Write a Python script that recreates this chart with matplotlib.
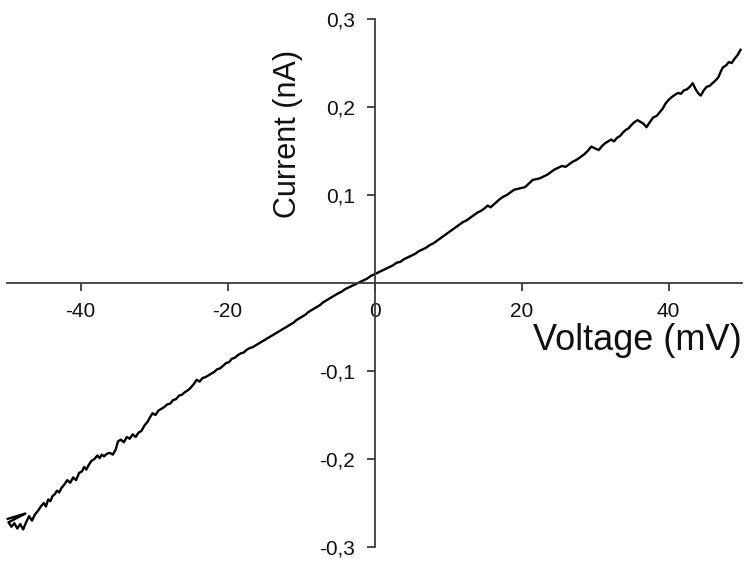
import numpy as np
import matplotlib
matplotlib.use("Agg")
import matplotlib.pyplot as plt

plt.rcParams['font.family'] = ['Liberation Sans', 'DejaVu Sans']

# I-V trace: voltage (mV) and current (nA)
voltage = [
    -49.9, -47.5, -49.8, -49.4, -49.0, -48.6, -48.2, -47.8, -47.4, -47.0,
    -46.6, -46.2, -45.8, -45.4, -45.0, -44.7, -44.4, -44.1, -43.8, -43.5,
    -43.2, -42.9, -42.6, -42.2, -41.8, -41.4, -41.0, -40.6, -40.2, -39.8,
    -39.5, -39.2, -38.9, -38.5, -38.1, -37.7, -37.4, -37.1, -36.8, -36.4,
    -36.0, -35.6, -35.2, -34.9, -34.5, -34.1, -33.7, -33.3, -32.9, -32.5,
    -32.1, -31.7, -31.3, -30.9, -30.5, -30.2, -29.8, -29.4, -29.0, -28.6,
    -28.2, -27.8, -27.4, -27.0, -26.6, -26.2, -25.8, -25.4, -25.0, -24.6,
    -24.2, -23.8, -23.4, -23.0, -22.6, -22.2, -21.8, -21.4, -21.0, -20.6,
    -20.2, -19.8, -19.4, -19.0, -18.6, -18.2, -17.8, -17.4, -17.0, -16.6,
    -16.2, -15.8, -15.4, -15.0, -14.6, -14.2, -13.8, -13.4, -13.0, -12.6,
    -12.2, -11.8, -11.4, -11.0, -10.6, -10.2, -9.8, -9.4, -9.0, -8.6,
    -8.2, -7.8, -7.4, -7.0, -6.6, -6.2, -5.8, -5.4, -5.0, -4.5,
    -4.0, -3.5, -3.0, -2.5, -2.0, -1.5, -1.0, -0.5, 0.0, 0.5,
    1.0, 1.5, 2.0, 2.5, 3.0, 3.5, 4.0, 4.5, 5.0, 5.5,
    6.0, 6.5, 7.0, 7.5, 8.0, 8.5, 9.0, 9.5, 10.0, 10.5,
    11.0, 11.5, 12.0, 12.5, 13.0, 13.5, 14.0, 14.5, 15.0, 15.4,
    15.8, 16.2, 16.6, 17.0, 17.5, 18.0, 18.5, 19.0, 19.5, 20.0,
    20.5, 21.0, 21.5, 22.0, 22.5, 23.0, 23.5, 24.0, 24.5, 25.0,
    25.5, 26.0, 26.5, 27.0, 27.5, 28.0, 28.5, 29.0, 29.5, 30.0,
    30.5, 31.0, 31.4, 31.8, 32.2, 32.6, 33.0, 33.4, 33.8, 34.2,
    34.6, 35.0, 35.4, 35.8, 36.2, 36.6, 37.0, 37.4, 37.9, 38.4,
    38.8, 39.2, 39.6, 40.0, 40.4, 40.9, 41.3, 41.7, 42.1, 42.5,
    42.9, 43.3, 43.7, 44.1, 44.4, 44.8, 45.2, 45.6, 46.1, 46.5,
    46.8, 47.1, 47.4, 47.8, 48.2, 48.6, 49.0, 49.4, 49.8,
]
current = [
    -0.268, -0.262, -0.272, -0.277, -0.273, -0.279, -0.274, -0.280, -0.272, -0.265,
    -0.270, -0.263, -0.259, -0.254, -0.250, -0.254, -0.246, -0.248, -0.242, -0.240,
    -0.236, -0.238, -0.233, -0.229, -0.224, -0.227, -0.221, -0.224, -0.216, -0.214,
    -0.209, -0.212, -0.207, -0.202, -0.200, -0.196, -0.199, -0.195, -0.197, -0.194,
    -0.193, -0.195, -0.189, -0.180, -0.178, -0.181, -0.175, -0.177, -0.172, -0.175,
    -0.170, -0.168, -0.162, -0.158, -0.152, -0.148, -0.150, -0.145, -0.143, -0.141,
    -0.138, -0.137, -0.133, -0.132, -0.128, -0.127, -0.124, -0.122, -0.119, -0.115,
    -0.110, -0.112, -0.108, -0.107, -0.105, -0.103, -0.101, -0.098, -0.097, -0.094,
    -0.091, -0.090, -0.086, -0.085, -0.082, -0.080, -0.079, -0.076, -0.074, -0.073,
    -0.071, -0.069, -0.067, -0.065, -0.063, -0.061, -0.059, -0.057, -0.055, -0.053,
    -0.051, -0.049, -0.047, -0.045, -0.042, -0.040, -0.038, -0.036, -0.033, -0.031,
    -0.029, -0.027, -0.025, -0.022, -0.020, -0.018, -0.016, -0.014, -0.012, -0.010,
    -0.007, -0.005, -0.003, -0.001, 0.001, 0.003, 0.005, 0.008, 0.010, 0.012,
    0.014, 0.016, 0.018, 0.020, 0.023, 0.024, 0.027, 0.029, 0.031, 0.033,
    0.036, 0.038, 0.040, 0.043, 0.045, 0.048, 0.051, 0.054, 0.057, 0.060,
    0.063, 0.066, 0.069, 0.071, 0.074, 0.077, 0.080, 0.082, 0.085, 0.088,
    0.086, 0.089, 0.092, 0.095, 0.098, 0.100, 0.103, 0.106, 0.107, 0.108,
    0.109, 0.113, 0.117, 0.118, 0.119, 0.121, 0.123, 0.126, 0.129, 0.131,
    0.133, 0.132, 0.135, 0.138, 0.140, 0.143, 0.146, 0.150, 0.155, 0.153,
    0.151, 0.156, 0.159, 0.161, 0.163, 0.161, 0.165, 0.167, 0.171, 0.174,
    0.176, 0.180, 0.183, 0.185, 0.183, 0.181, 0.177, 0.182, 0.188, 0.190,
    0.194, 0.198, 0.204, 0.208, 0.211, 0.214, 0.216, 0.215, 0.219, 0.220,
    0.223, 0.227, 0.220, 0.215, 0.213, 0.219, 0.223, 0.224, 0.228, 0.231,
    0.234, 0.240, 0.245, 0.247, 0.251, 0.250, 0.255, 0.259, 0.265,
]

x_ticks = [-40, -20, 0, 20, 40]
x_ticklabels = ['-40', '-20', '0', '20', '40']
y_ticks = [-0.3, -0.2, -0.1, 0.1, 0.2, 0.3]
y_ticklabels = ['-0,3', '-0,2', '-0,1', '0,1', '0,2', '0,3']

W, H = 747, 565
fig = plt.figure(figsize=(W / 100, H / 100), dpi=100)
ax = fig.add_axes([7 / W, 1 - 547 / H, (742 - 7) / W, (547 - 19) / H])

ax.plot(voltage, current, color='black', linewidth=1.7, clip_on=False)

ax.set_xlim(-50, 50)
ax.set_ylim(-0.3, 0.3)

# axes cross at the origin
axis_color = '#3c3c3c'
ax.spines['left'].set_position(('data', 0))
ax.spines['bottom'].set_position(('data', 0))
ax.spines['right'].set_visible(False)
ax.spines['top'].set_visible(False)
for side in ['left', 'bottom']:
    ax.spines[side].set_color(axis_color)
    ax.spines[side].set_linewidth(1.3)

ax.set_xticks(x_ticks)
ax.set_xticklabels(x_ticklabels)
ax.set_yticks(y_ticks)
ax.set_yticklabels(y_ticklabels)
ax.tick_params(axis='both', direction='out', length=6, width=1.3,
               color=axis_color, labelsize=15, labelcolor='#111111', pad=8)

fig.text(288 / W, 1 - 134 / H, 'Current (nA)', rotation=90, fontsize=22,
         ha='center', va='center', color='#111111')
fig.text(637 / W, 1 - 340 / H, 'Voltage (mV)', fontsize=26,
         ha='center', va='center', color='#111111')

fig.savefig('out.png', dpi=100, facecolor='white')
